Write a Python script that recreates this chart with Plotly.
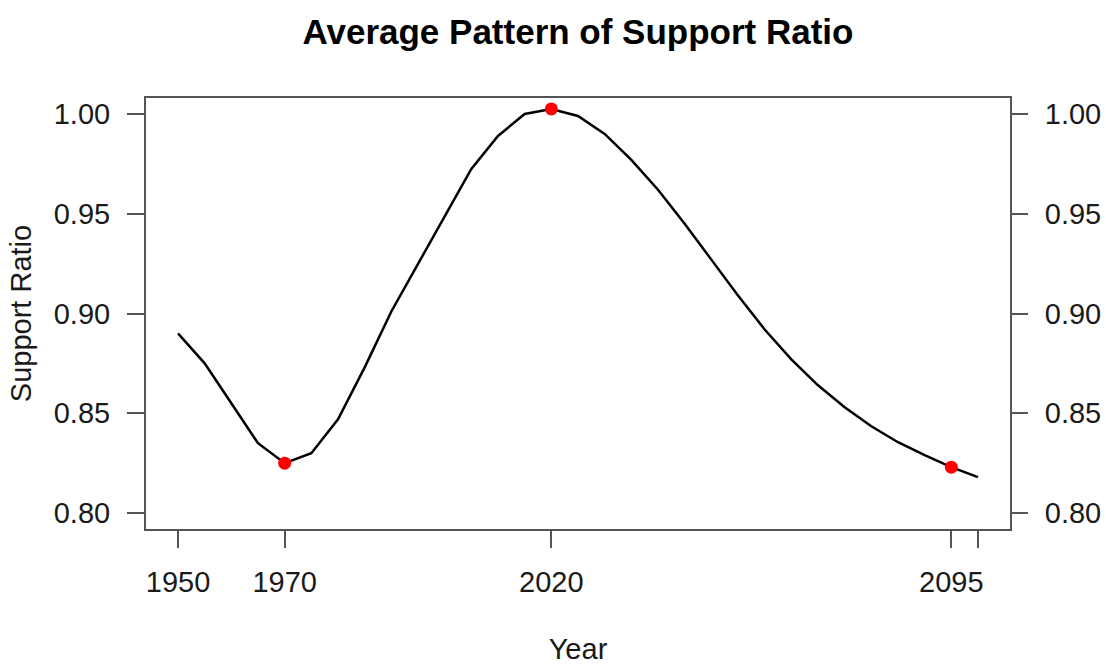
import plotly.graph_objects as go

# Support ratio, averaged across countries, every five years 1950-2100
years = [1950, 1955, 1960, 1965, 1970, 1975, 1980, 1985, 1990, 1995,
         2000, 2005, 2010, 2015, 2020, 2025, 2030, 2035, 2040, 2045,
         2050, 2055, 2060, 2065, 2070, 2075, 2080, 2085, 2090, 2095, 2100]
support_ratio = [0.890, 0.875, 0.855, 0.835, 0.825, 0.830, 0.847, 0.873, 0.901, 0.925,
                 0.949, 0.9725, 0.989, 1.000, 1.0025, 0.999, 0.990, 0.977, 0.962, 0.945,
                 0.927, 0.909, 0.892, 0.877, 0.864, 0.853, 0.8435, 0.8355, 0.829, 0.823, 0.818]

# Highlighted years: trough, peak and late-century point
mark_years = [1970, 2020, 2095]
mark_values = [support_ratio[years.index(y)] for y in mark_years]

x_ticks = [1950, 1970, 2020, 2095, 2100]
x_tick_text = ["1950", "1970", "2020", "2095", ""]
y_ticks = [0.80, 0.85, 0.90, 0.95, 1.00]
y_tick_text = ["0.80", "0.85", "0.90", "0.95", "1.00"]

FONT = "Liberation Sans, Arial, Helvetica, sans-serif"
AXIS_COLOR = "#555555"
TEXT_COLOR = "#1a1a1a"

fig = go.Figure()
fig.add_trace(go.Scatter(
    x=years, y=support_ratio, mode="lines",
    line=dict(color="black", width=2.5), hoverinfo="skip", showlegend=False))
fig.add_trace(go.Scatter(
    x=mark_years, y=mark_values, mode="markers",
    marker=dict(color="#ff0000", size=13), showlegend=False))
# Invisible copy on the right-hand axis so that axis gets drawn
fig.add_trace(go.Scatter(
    x=years, y=support_ratio, mode="lines", yaxis="y2",
    line=dict(color="rgba(0,0,0,0)", width=0), hoverinfo="skip", showlegend=False))

y_range = [0.792, 1.008]
common_y = dict(
    range=y_range, tickvals=y_ticks, ticktext=y_tick_text,
    ticks="outside", ticklen=17, tickwidth=1.5, tickcolor=AXIS_COLOR,
    showgrid=False, zeroline=False, automargin=False,
    tickfont=dict(family=FONT, size=29, color=TEXT_COLOR),
)

fig.update_layout(
    width=1106, height=666,
    margin=dict(l=146, r=96, t=98, b=137),
    paper_bgcolor="white", plot_bgcolor="white",
    title=dict(
        text="<b>Average Pattern of Support Ratio</b>",
        font=dict(family=FONT, size=35, color="black"),
        x=0.5226, xanchor="center", xref="container",
        y=1 - 32 / 666, yanchor="middle", yref="container"),
    xaxis=dict(
        range=[1944, 2106], tickvals=x_ticks, ticktext=x_tick_text,
        ticks="outside", ticklen=17, tickwidth=1.5, tickcolor=AXIS_COLOR,
        showline=True, linecolor=AXIS_COLOR, linewidth=2, mirror=True,
        showgrid=False, zeroline=False, automargin=False,
        tickfont=dict(family=FONT, size=29, color=TEXT_COLOR),
        ticklabelstandoff=9,
        title=dict(text="Year", font=dict(family=FONT, size=29, color=TEXT_COLOR),
                   standoff=42),
    ),
    yaxis=dict(
        **common_y,
        ticklabelstandoff=11,
        showline=True, linecolor=AXIS_COLOR, linewidth=2, mirror=True,
        title=dict(text="Support Ratio", font=dict(family=FONT, size=29, color=TEXT_COLOR),
                   standoff=14),
    ),
    yaxis2=dict(
        **common_y, ticklabelstandoff=11, overlaying="y", side="right", showline=False,
    ),
)

fig.write_html("out.html")
